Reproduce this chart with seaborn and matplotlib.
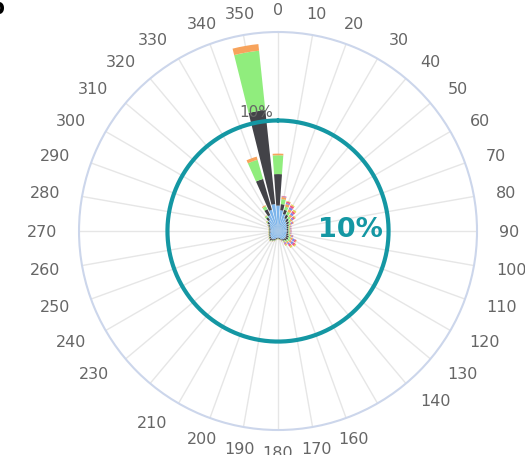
import numpy as np
import pandas as pd
import seaborn as sns
import matplotlib.pyplot as plt

# Wind directions (degrees) and frequency (%) per speed class
directions = list(range(0, 360, 10))
# rim labels that are left out where they would crowd their neighbours
hidden_labels = [150, 220]

speed_classes = ["< 0.5 m/s", "0.5-2 m/s", "2-4 m/s", "4-6 m/s",
                 "6-8 m/s", "8-10 m/s", "> 10 m/s"]

calm = [2.3, 1.9, 1.6, 1.3, 1.1, 1.0, 0.9, 0.85, 0.8, 0.8, 0.8, 0.8,
        0.85, 0.9, 0.9, 0.85, 0.75, 0.65, 0.6, 0.65, 0.75, 0.85, 0.9, 0.85,
        0.8, 0.75, 0.7, 0.7, 0.7, 0.75, 0.85, 1.0, 1.25, 1.6, 2.0, 2.45]
light = [2.85, 0.55, 0.4, 0.35, 0.3, 0.25, 0.2, 0.15, 0.15, 0.15, 0.15, 0.2,
         0.25, 0.25, 0.2, 0.15, 0.1, 0.1, 0.1, 0.1, 0.15, 0.15, 0.2, 0.15,
         0.1, 0.1, 0.1, 0.1, 0.1, 0.1, 0.15, 0.2, 0.3, 0.6, 2.9, 8.55]
gentle = [1.7, 0.45, 0.3, 0.3, 0.25, 0.2, 0.15, 0.1, 0.1, 0.1, 0.1, 0.15,
          0.2, 0.2, 0.15, 0.1, 0.05, 0.05, 0.05, 0.05, 0.05, 0.05, 0.05, 0.05,
          0.05, 0.05, 0.05, 0.05, 0.05, 0.05, 0.05, 0.1, 0.15, 0.3, 1.8, 5.4]
moderate = [0.15, 0.2, 0.25, 0.25, 0.2, 0.15, 0.1, 0.1, 0.1, 0.1, 0.1, 0.15,
            0.2, 0.2, 0.15, 0.1, 0.04, 0.03, 0.03, 0.03, 0.03, 0.03, 0.03, 0.03,
            0.03, 0.03, 0.03, 0.03, 0.03, 0.03, 0.04, 0.05, 0.05, 0.1, 0.3, 0.6]
fresh = [0.0, 0.05, 0.1, 0.2, 0.2, 0.15, 0.1, 0.05, 0.05, 0.05, 0.05, 0.1,
         0.2, 0.2, 0.15, 0.1, 0.02, 0.0, 0.0, 0.0, 0.0, 0.0, 0.0, 0.0,
         0.0, 0.0, 0.0, 0.0, 0.0, 0.0, 0.0, 0.0, 0.0, 0.0, 0.0, 0.0]
strong = [0.0, 0.05, 0.15, 0.2, 0.2, 0.15, 0.1, 0.03, 0.03, 0.03, 0.03, 0.05,
          0.15, 0.2, 0.2, 0.1, 0.02, 0.0, 0.0, 0.0, 0.0, 0.0, 0.0, 0.0,
          0.0, 0.0, 0.0, 0.0, 0.0, 0.0, 0.0, 0.0, 0.0, 0.0, 0.0, 0.0]
gale = [0.0, 0.0, 0.05, 0.1, 0.15, 0.1, 0.05, 0.0, 0.0, 0.0, 0.0, 0.0,
        0.05, 0.1, 0.15, 0.1, 0.0, 0.0, 0.0, 0.0, 0.0, 0.0, 0.0, 0.0,
        0.0, 0.0, 0.0, 0.0, 0.0, 0.0, 0.0, 0.0, 0.0, 0.0, 0.0, 0.0]

ring_value = 10
ring_label = "10%"

df = pd.DataFrame({"direction": directions})
for name, vals in zip(speed_classes,
                      [calm, light, gentle, moderate, fresh, strong, gale]):
    df[name] = vals

sns.set_style("white")
plt.rcParams["font.family"] = ["DejaVu Sans"]

palette = sns.color_palette(["#7cb5ec", "#434348", "#90ed7d", "#f7a35c",
                             "#8085e9", "#f15c80", "#e4d354"])

fig = plt.figure(figsize=(5.25, 4.56), dpi=100)
ax = fig.add_axes([0.1505, 0.0548, 0.7581, 0.8728], projection="polar")
ax.set_theta_zero_location("N")
ax.set_theta_direction(-1)
ax.set_ylim(0, 18)

theta = np.deg2rad(df["direction"].to_numpy())
bottom = np.zeros(len(df))
for name, color in zip(speed_classes, palette):
    vals = df[name].to_numpy()
    ax.bar(theta, vals, width=np.deg2rad(8), bottom=bottom, color=color,
           linewidth=0, zorder=3, label=name)
    bottom += vals

# grid and frame
ax.set_xticks(theta)
ax.set_xticklabels([])
ax.set_yticks([ring_value])
ax.set_yticklabels([])
ax.grid(True, color="#e6e6e6", linewidth=1, zorder=0)
ax.spines["polar"].set_color("#ccd6eb")
ax.spines["polar"].set_linewidth(1.5)

# direction labels around the rim
for d in directions:
    if d in hidden_labels:
        continue
    if 20 < d < 160:
        ha = "left"
    elif 200 < d < 340:
        ha = "right"
    else:
        ha = "center"
    ax.text(np.deg2rad(d), 20.0, str(d), ha=ha, va="center",
            fontsize=11.5, color="#666666", clip_on=False)

# radial tick label
ax.text(np.deg2rad(349.6), 11.0, ring_label, ha="center", va="center",
        fontsize=11, color="#666666", zorder=5)

# highlighted reference ring
t = np.linspace(0, 2 * np.pi, 400)
ax.plot(t, np.full_like(t, ring_value), color="#1497a3", linewidth=3, zorder=4)
ax.text(0.681, 0.505, ring_label, transform=ax.transAxes, ha="center",
        va="center", fontsize=19.5, fontweight="bold", color="#1497a3",
        zorder=5)

fig.text(0.0076, 0.982, "b", ha="right", va="center", fontsize=15,
         fontweight="bold", color="black")

fig.savefig("out.png", dpi=100)
